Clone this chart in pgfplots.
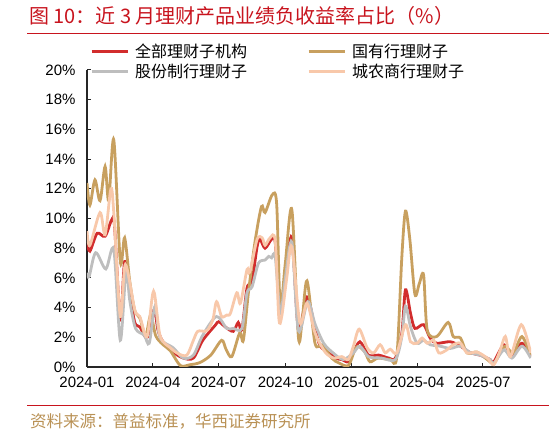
\documentclass[border=0pt]{standalone}
\usepackage{fontspec}
\setmainfont{Liberation Sans}
\newfontfamily\cjk{Noto Sans CJK SC}
\usepackage{pgfplots}
\pgfplotsset{compat=1.18}
\definecolor{titlered}{RGB}{200,20,30}
\definecolor{sred}{RGB}{210,45,45}
\definecolor{sgold}{RGB}{200,160,95}
\definecolor{sgray}{RGB}{190,190,190}
\definecolor{speach}{RGB}{248,200,170}
\definecolor{footgold}{RGB}{185,145,85}
\begin{document}
\begin{tikzpicture}[x=1pt,y=1pt]
\useasboundingbox (0,0) rectangle (549,435);
\node[anchor=west, inner sep=0pt, text=titlered, font=\cjk\fontsize{20}{24}\selectfont] at (29,419) {图 10：近 3 月理财产品业绩负收益率占比（\%）};
\draw[titlered, line width=1.2pt] (27,401.7) -- (549,401.7);
\draw[titlered, line width=1pt] (27,29.3) -- (549,29.3);
\node[anchor=west, inner sep=0pt, text=footgold, font=\cjk\fontsize{16.5}{19}\selectfont] at (30,13.5) {资料来源：普益标准，华西证券研究所};
\begin{axis}[at={(87pt,68pt)}, anchor=origin, scale only axis,
  width=444pt, height=297pt,
  xmin=0, xmax=613.4, ymin=0, ymax=20,
  axis lines*=left,
  axis line style={line width=1.2pt, black!85},
  tick align=inside, major tick length=4pt,
  tick style={line width=1pt, black!85},
  xtick={0,91,182,274,366,456,547},
  xticklabels={2024-01,2024-04,2024-07,2024-10,2025-01,2025-04,2025-07},
  ytick={0,2,...,20},
  yticklabel={\pgfmathprintnumber{\tick}\%},
  /pgf/number format/assume math mode=true,
  ticklabel style={font=\fontsize{15}{18}\selectfont},
  yticklabel style={xshift=-8pt},
  xticklabel style={yshift=-6pt},
  legend columns=2,
  legend cell align=left,
  legend style={draw=none, fill=none, font=\cjk\fontsize{16}{19}\selectfont,
    at={(axis description cs:0.0,1.102)}, anchor=north west,
    /tikz/every odd column/.append style={column sep=4pt},
    /tikz/every even column/.append style={column sep=58pt},
    row sep=1pt},
  legend image code/.code={\draw[#1, line width=3pt] (0pt,0pt) -- (36pt,0pt);},
  every axis plot/.append style={line width=2.8pt, smooth},
]
\addplot[sred] coordinates {(0,8.4) (4,7.8) (14,9.0) (25,8.8) (34,9.9) (38,9.5) (46,3.2) (52,7.1) (59,5.0) (66,3.0) (73,2.7) (81,2.0) (87,2.3) (93,3.9) (98,2.5) (105,1.7) (119,1.0) (133,0.6) (147,0.6) (160,1.8) (177,2.8) (182,3.05) (191,2.7) (202,2.4) (209,3.0) (214,2.5) (221,5.3) (228,5.8) (235,8.1) (239,8.6) (246,8.0) (255,8.6) (260,8.4) (267,3.85) (274,6.2) (283,8.7) (292,2.6) (304,4.7) (315,2.6) (322,1.4) (329,1.15) (343,0.6) (352,0.5) (361,0.35) (368,0.95) (377,1.7) (389,0.8) (403,0.8) (417,0.6) (426,0.6) (435,2.3) (440,5.2) (447,3.6) (453,2.6) (465,2.85) (474,1.95) (483,1.6) (502,1.7) (516,1.4) (530,0.95) (543,0.8) (557,0.5) (562,0.35) (576,1.5) (587,0.8) (601,1.6) (613,0.7)};
\addlegendentry{全部理财子机构}
\addplot[sgold] coordinates {(0,12.4) (4,10.9) (11,12.6) (18,11.2) (25,13.5) (30,11.2) (37,15.3) (46,7.1) (52,8.7) (59,5.8) (66,3.8) (73,3.3) (81,2.1) (88,3.5) (95,2.1) (105,1.5) (115,1.1) (129,0.1) (142,0.15) (156,0.3) (171,0.8) (186,1.8) (192,1.2) (200,0.7) (211,2.3) (216,1.8) (223,5.0) (232,8.4) (241,10.8) (246,10.4) (256,11.6) (262,11.0) (267,4.1) (274,7.0) (283,10.6) (292,2.05) (297,3.0) (304,5.8) (315,1.6) (325,1.5) (338,0.6) (348,0.27) (361,0.1) (370,1.15) (375,1.4) (384,1.0) (391,0.35) (402,0.6) (419,0.5) (428,0.7) (435,7.45) (440,10.5) (446,8.6) (453,4.9) (459,5.6) (465,6.2) (470,2.5) (483,2.05) (499,3.0) (506,2.05) (516,1.95) (525,0.95) (539,1.0) (553,0.5) (562,0.25) (571,0.95) (578,1.4) (589,0.95) (601,2.05) (613,0.7)};
\addlegendentry{国有行理财子}
\addplot[sgray] coordinates {(0,6.35) (3,6.1) (12,7.7) (26,6.6) (37,7.9) (46,1.8) (54,6.55) (59,4.5) (67,2.6) (79,2.15) (86,1.6) (94,4.1) (101,1.95) (119,1.3) (133,0.6) (147,0.8) (160,2.15) (179,3.4) (193,2.6) (202,2.6) (214,2.6) (221,5.0) (228,5.4) (237,7.0) (246,7.2) (251,7.45) (255,7.35) (260,7.45) (267,3.6) (274,6.0) (283,8.4) (292,2.45) (305,4.4) (315,2.9) (327,1.6) (340,0.95) (354,0.5) (368,0.95) (377,1.4) (389,0.7) (407,0.6) (426,0.5) (435,2.05) (440,4.1) (447,2.7) (456,1.6) (465,1.8) (474,1.5) (488,1.4) (502,1.25) (516,1.4) (530,0.95) (543,0.8) (557,0.5) (562,0.25) (576,1.15) (587,0.6) (601,1.4) (613,0.6)};
\addlegendentry{股份制行理财子}
\addplot[speach] coordinates {(0,9.15) (4,8.2) (18,10.4) (25,8.9) (33,12.0) (37,10.4) (46,3.4) (53,6.9) (66,3.85) (73,3.4) (83,2.05) (92,5.1) (101,2.1) (115,1.3) (126,0.9) (138,0.8) (147,1.8) (153,2.4) (163,2.4) (167,2.5) (174,3.2) (179,4.4) (186,3.4) (193,3.5) (198,3.6) (207,5.0) (212,4.3) (221,6.55) (225,6.4) (235,8.6) (242,8.7) (246,8.2) (253,8.7) (260,8.5) (265,3.3) (269,3.4) (276,6.0) (283,8.1) (294,3.0) (304,4.3) (315,2.3) (329,1.0) (341,0.6) (352,0.7) (361,0.5) (368,1.4) (376,2.55) (387,1.3) (396,0.95) (405,1.5) (412,0.95) (419,1.2) (428,0.95) (440,2.85) (447,1.7) (456,1.6) (463,1.95) (470,1.6) (479,1.8) (486,0.95) (497,1.15) (506,1.5) (516,1.6) (525,0.95) (539,1.0) (553,0.6) (562,0.15) (571,1.15) (578,2.05) (585,0.7) (600,2.85) (613,0.95)};
\addlegendentry{城农商行理财子}
\end{axis}
\end{tikzpicture}
\end{document}
